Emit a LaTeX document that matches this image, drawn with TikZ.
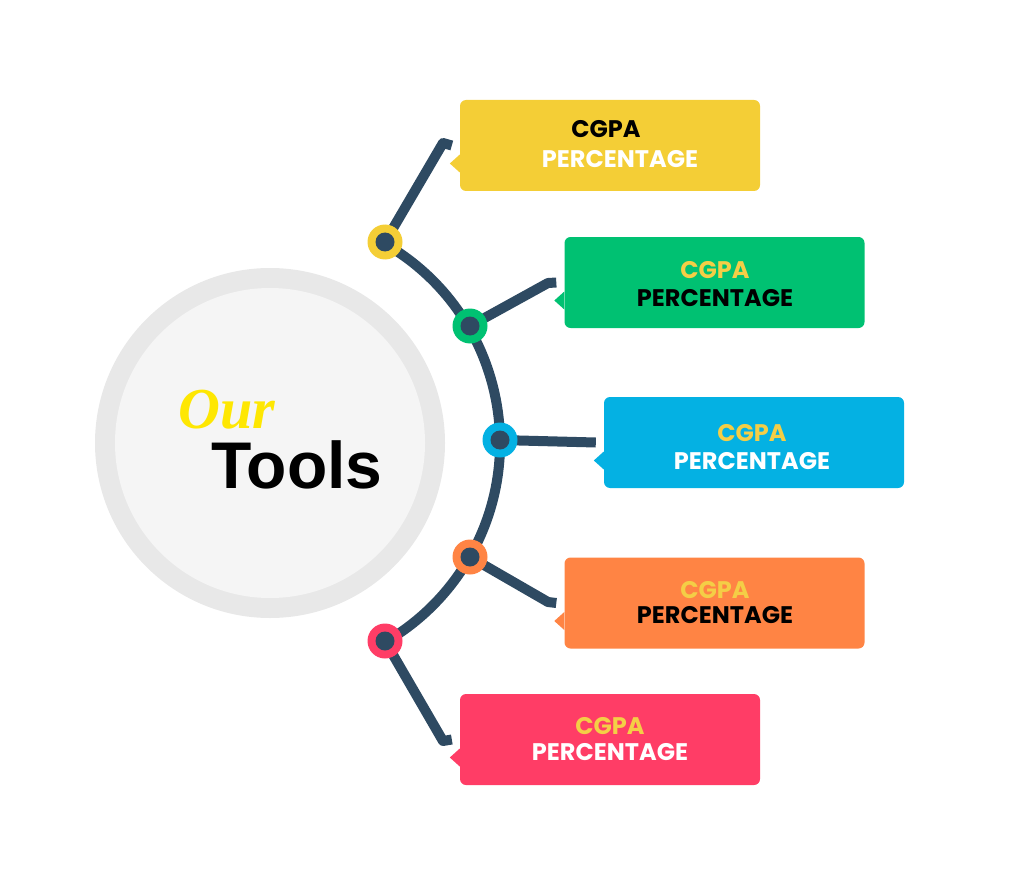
\documentclass[tikz,border=0pt]{standalone}
\usepackage{fontspec}
\setmainfont{Liberation Sans}
\newfontfamily\capsfont{Poppins Bold}
\newfontfamily\serifit{Liberation Serif}
\definecolor{navy}{HTML}{2E4A62}
\definecolor{cy}{HTML}{F4CE36}
\definecolor{cg}{HTML}{00C172}
\definecolor{cb}{HTML}{04B1E3}
\definecolor{co}{HTML}{FF8444}
\definecolor{cp}{HTML}{FF3D66}
\definecolor{ty}{HTML}{F4CE46}
\begin{document}
\begin{tikzpicture}[x=1pt,y=-1pt,
  conn/.style={navy,line width=10pt,line join=round},
  tbox/.style={rounded corners=6pt,minimum width=300pt,minimum height=91pt,inner sep=0pt},
  l1/.style={font=\capsfont\fontsize{24}{24}\selectfont},
  l2/.style={font=\capsfont\fontsize{24}{24}\selectfont}]
\useasboundingbox (0,0) rectangle (1024,885);
\fill[gray!18] (270,443) circle (175);
\fill[gray!8] (270,443) circle (155);
\node[font=\serifit\bfseries\itshape\fontsize{58}{58}\selectfont,text=yellow!90!orange,anchor=base west] (our) at (175,428) {Our};
\node[font=\bfseries\fontsize{66}{66}\selectfont,anchor=base west] (tools) at (208,488) {Tools};
\draw[conn] (270,443) ++(-60:230) arc[start angle=-60,end angle=60,radius=230];
% boxes
\node[tbox,fill=cy] (b1) at (610,145.5) {};
\node[tbox,fill=cg] (b2) at (714.5,282.5) {};
\node[tbox,fill=cb] (b3) at (754,442.5) {};
\node[tbox,fill=co] (b4) at (714.5,603) {};
\node[tbox,fill=cp] (b5) at (610,739.5) {};
\foreach \b/\c in {b1/cy,b2/cg,b3/cb,b4/co,b5/cp}
  \fill[\c] ([yshift=-9pt]\b.west) -- ++(-10,9) -- ++(10,9) -- cycle;
% texts
\node[l1,text=black] (t1a) at (606,129) {CGPA};
\node[l2,text=white] (t1b) at (620,159) {PERCENTAGE};
\node[l1,text=ty] (t2a) at (715,270) {CGPA};
\node[l2,text=black] (t2b) at (715,298) {PERCENTAGE};
\node[l1,text=ty] (t3a) at (752,433) {CGPA};
\node[l2,text=white] (t3b) at (752,461) {PERCENTAGE};
\node[l1,text=ty] (t4a) at (715,590) {CGPA};
\node[l2,text=black] (t4b) at (715,615) {PERCENTAGE};
\node[l1,text=ty] (t5a) at (610,726) {CGPA};
\node[l2,text=white] (t5b) at (610,752) {PERCENTAGE};
% dots
\coordinate (d1) at (385,242); \coordinate (d2) at (470,326);
\coordinate (d3) at (500,440); \coordinate (d4) at (470,557);
\coordinate (d5) at (385,641);
\coordinate (k1) at (443,143); \coordinate (k2) at (548,283);
\coordinate (k4) at (548,602); \coordinate (k5) at (443,741);
\draw[conn] (d1) -- (k1) -- ([xshift=-8pt]b1.west);
\draw[conn] (d2) -- (k2) -- ([xshift=-8pt]b2.west);
\draw[conn] (d3) -- ([xshift=-8pt]b3.west);
\draw[conn] (d4) -- (k4) -- ([xshift=-8pt]b4.west);
\draw[conn] (d5) -- (k5) -- ([xshift=-8pt]b5.west);
\foreach \d/\c in {d1/cy,d2/cg,d3/cb,d4/co,d5/cp}{
  \fill[\c] (\d) circle (17.5);
  \fill[navy] (\d) circle (9.5);}
\end{tikzpicture}
\end{document}
